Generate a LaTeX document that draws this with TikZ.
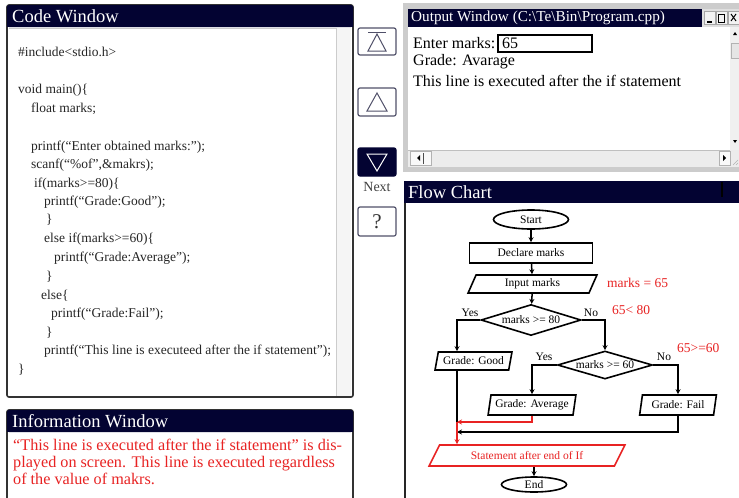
\documentclass[tikz,border=0pt]{standalone}
\usepackage{fontspec}
\setmainfont{Liberation Serif}
\usetikzlibrary{shapes.geometric,arrows.meta,calc}
\definecolor{navy}{RGB}{3,3,50}
\definecolor{myred}{RGB}{232,35,35}
\definecolor{btn}{RGB}{80,80,105}
\newcommand\fsz[1]{\fontsize{#1}{#1}\selectfont}
\begin{document}
\begin{tikzpicture}[x=1pt,y=-1pt,
  codetext/.style={anchor=west,inner sep=0pt,font=\fsz{13.5},text=black!85},
  wtitle/.style={anchor=west,inner sep=0pt,text=white},
  outtext/.style={anchor=west,inner sep=0pt,font=\fsz{16}},
  fc/.style={draw,line width=1.6pt,inner sep=1pt,font=\fsz{11.5}},
  para/.style={fc,trapezium,trapezium stretches=true,trapezium left angle=#1,trapezium right angle=180-#1},
  arr/.style={line width=1.5pt,-{Stealth[length=5pt,width=5pt]}},
  redarr/.style={arr,myred},
  plain/.style={line width=1.5pt},
  lbl/.style={inner sep=0pt,font=\fsz{11.5}},
  redlbl/.style={inner sep=0pt,font=\fsz{13.5},text=myred},
  button/.style={draw=btn,line width=1.2pt,rounded corners=2pt,fill=white},
  ]
\clip (0,0) rectangle (739,498);
\fill[white] (0,0) rectangle (739,498);

% ---------------- Code window ----------------
\draw[fill=white,draw=black!80,line width=1.6pt,rounded corners=2pt] (7,5) rectangle (353,397);
\fill[navy,rounded corners=2pt] (7,5) rectangle (353,27);
\fill[navy] (7,16) rectangle (353,27);
\fill[gray!8] (336,28) rectangle (351,396);
\draw[gray!40] (336,28) -- (336,396);
\draw[gray!40] (9,28) -- (336,28);
\node[wtitle,font=\fsz{18.5}] (ctitle) at (12,16) {Code Window};

\node[codetext] (c1) at (18,52) {\#include<stdio.h>};
\node[codetext] (c2) at (18,90) {void main()\{};
\node[codetext] (c3) at (31,109) {float marks;};
\node[codetext] (c4) at (31,147) {printf(“Enter obtained marks:”);};
\node[codetext] (c5) at (31,165) {scanf(“\%of”,\&makrs);};
\node[codetext] (c6) at (34,184) {if(marks>=80)\{};
\node[codetext] (c7) at (44,202) {printf(“Grade:Good”);};
\node[codetext] (c8) at (46,220) {\}};
\node[codetext] (c9) at (44,239) {else if(marks>=60)\{};
\node[codetext] (c10) at (54,258) {printf(“Grade:Average”);};
\node[codetext] (c11) at (46,277) {\}};
\node[codetext] (c12) at (41,296) {else\{};
\node[codetext] (c13) at (51,314) {printf(“Grade:Fail”);};
\node[codetext] (c14) at (46,333) {\}};
\node[codetext] (c15) at (44,351) {printf(“This line is executeed after the if statement”);};
\node[codetext] (c16) at (18,370) {\}};

% ---------------- Information window ----------------
\draw[fill=white,draw=black!80,line width=1.6pt,rounded corners=2pt] (7,410) rectangle (353,510);
\fill[navy,rounded corners=2pt] (7,410) rectangle (353,432);
\fill[navy] (7,420) rectangle (353,432);
\node[wtitle,font=\fsz{18.5}] (ititle) at (12,421) {Information Window};
\node[anchor=north west,inner sep=0pt,align=left,text=myred,font=\fontsize{16.2}{16.8}\selectfont] (itext) at (13,439)
  {“This line is executed after the if statement” is dis-\\played on screen. This line is executed regardless\\of the value of makrs.};

% ---------------- Buttons ----------------
\node[button,minimum width=38pt,minimum height=27pt] (b1) at (377,41.5) {};
\draw[btn,line width=1pt] (368,32) -- (386,32);
\draw[btn,line width=1pt,line join=miter] (377,34) -- (386,51) -- (368,51) -- cycle;
\node[button,minimum width=38pt,minimum height=28pt] (b2) at (377,102) {};
\draw[btn,line width=1pt] (377,93) -- (387,111) -- (367,111) -- cycle;
\node[button,fill=navy,draw=navy,minimum width=38pt,minimum height=28pt] (b3) at (377,162) {};
\draw[white,line width=1pt] (367,154) -- (387,154) -- (377,171) -- cycle;
\node[inner sep=0pt,font=\fsz{14},text=black!75] (next) at (377,187) {Next};
\node[button,minimum width=38pt,minimum height=29pt,font=\fsz{21},text=black!80] (b4) at (377,221.5) {?};

% ---------------- Output window ----------------
\fill[gray!40] (403,3) rectangle (739,172);
\fill[white] (408,9) rectangle (739,167);
\fill[navy] (408,9) rectangle (702,27);
\node[wtitle,font=\fsz{15.2}] (otitle) at (411,18) {Output Window (C:\textbackslash Te\textbackslash Bin\textbackslash Program.cpp)};
\fill[gray!25] (702,9) rectangle (739,27);
\draw[gray!70,fill=gray!10] (704,11) rectangle (715,24);
\draw[black,line width=1.2pt] (707,22) -- (712,22);
\draw[gray!70,fill=gray!10] (716,11) rectangle (727,24);
\draw[black,line width=0.8pt] (718.5,14) rectangle (724.5,22);
\draw[gray!70,fill=gray!10] (728,11) rectangle (739,24);
\draw[black,line width=1pt] (731,14) -- (736,21) (731,21) -- (736,14);
% vertical scrollbar
\fill[gray!12] (730,27) rectangle (739,150);
\fill[black] (733,35) -- (737,35) -- (735,32) -- cycle;
\draw[gray!60,fill=gray!20] (731,43) rectangle (739,58);
\fill[black] (733,140) -- (737,140) -- (735,143) -- cycle;
% horizontal scrollbar
\fill[gray!15] (408,150) rectangle (739,167);
\draw[gray!50] (408,150) -- (730,150);
\draw[gray!60,fill=gray!5] (410,151) rectangle (431,165);
\fill[black] (417,158) -- (420,155) -- (420,161) -- cycle;
\draw[black!70] (423,153) -- (423,164);
\draw[gray!60,fill=gray!5] (719,151) rectangle (730,165);
\fill[black] (726,158) -- (723,155) -- (723,161) -- cycle;
\draw[gray!60] (733,165) -- (738,160) (736,165) -- (738,163);
% text
\node[outtext] (o1) at (413,43) {Enter marks:};
\node[draw,line width=1.8pt,minimum width=94pt,minimum height=17pt,inner sep=0pt] (obox) at (545,43.5) {};
\node[outtext] (o65) at (502,43) {65};
\node[outtext] (o2) at (413,62) {Grade: Avarage};
\node[outtext] (o3) at (413,81) {This line is executed after the if statement};

% ---------------- Flow chart window ----------------
\fill[white] (405,181) rectangle (739,498);
\draw[black!85,line width=1.6pt] (405,185) -- (405,498);
\fill[navy] (404,181) rectangle (739,203);
\draw[black,line width=1.2pt] (722,182) -- (722,197);
\node[wtitle,font=\fsz{18.5}] (ftitle) at (408,192) {Flow Chart};

\node[fc,ellipse,minimum width=75pt,minimum height=19pt,inner sep=0pt] (start) at (531,219.5) {Start};
\node[fc,minimum width=123pt,minimum height=20pt] (decl) at (531,253) {Declare marks};
\node[para=72,minimum width=129pt,minimum height=18pt] (inp) at (532.5,284) {Input marks};
\node[fc,diamond,aspect=3,inner sep=0pt,minimum width=100pt,minimum height=31pt] (d1) at (531,320) {marks >= 80};
\node[para=74,minimum width=77pt,minimum height=18pt] (good) at (473.5,361) {Grade: Good};
\node[fc,diamond,aspect=3,inner sep=0pt,minimum width=95pt,minimum height=28pt] (d2) at (605,365) {marks >= 60};
\node[para=78,minimum width=88pt,minimum height=20pt] (avg) at (532,405) {Grade: Average};
\node[para=78,minimum width=77pt,minimum height=20pt] (fail) at (678,405) {Grade: Fail};
\node[para=56,draw=myred,text=myred,minimum width=196pt,minimum height=21pt] (stmt) at (527,455.5) {Statement after end of If};
\node[fc,ellipse,minimum width=65pt,minimum height=15pt,inner sep=0pt] (end) at (534,484.5) {End};

\node[lbl] (yes1) at (470,313) {Yes};
\node[lbl] (no1) at (591,313) {No};
\node[lbl] (yes2) at (544,357) {Yes};
\node[lbl] (no2) at (664,357) {No};
\node[redlbl,anchor=west] (r1) at (607,283) {marks = 65};
\node[redlbl,anchor=west] (r2) at (612,310) {65< 80};
\node[redlbl,anchor=west] (r3) at (677,348) {65>=60};

\coordinate (gx) at (457,0);
\coordinate (j1) at (457,422);
\coordinate (j2) at (457,432);

\draw[arr] (start) -- (decl);
\draw[arr] (decl) -- (inp);
\draw[arr] (inp) -- (d1);
\draw[arr] (d1.west) -| (gx |- good.north);
\draw[arr] (d1.east) -| (d2.north);
\draw[arr] (d2.west) -| (avg.north);
\draw[arr] (d2.east) -| (fail.north);
\draw[plain] (gx |- good.south) -- (j2);
\draw[arr] (fail.south) |- (j2);
\draw[redarr] (avg.south) |- (j1);
\draw[redarr] (j1) -- (j1 |- stmt.north);
\draw[arr] (end.north |- stmt.south) -- (end.north);
\end{tikzpicture}
\end{document}
